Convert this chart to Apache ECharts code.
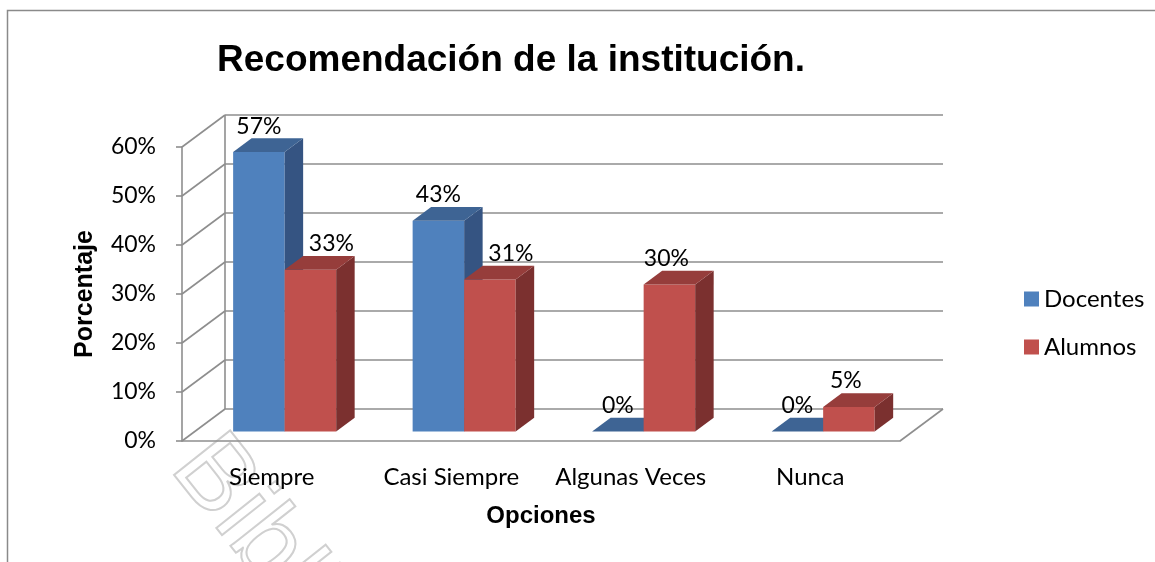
<!DOCTYPE html>
<html>
<head>
<meta charset="utf-8">
<script src="https://cdn.jsdelivr.net/npm/echarts@6/dist/echarts.min.js"></script>
<style>
  html, body { margin: 0; padding: 0; background: #fff; }
  #chart { width: 1155px; height: 562px; }
</style>
</head>
<body>
<div id="chart"></div>
<script>
var categories = ['Siempre', 'Casi Siempre', 'Algunas Veces', 'Nunca'];
var docentes = [0.57, 0.43, 0, 0];
var alumnos = [0.33, 0.31, 0.30, 0.05];
var yTicks = [0, 0.1, 0.2, 0.3, 0.4, 0.5, 0.6];

// profundidad del efecto 3D (px)
var DX = 43, DY = -32;
var D0 = 0.3, D1 = 0.73;
var GRID_COLOR = '#8e8e8e';
var FONT = 'Lato, "Open Sans", sans-serif';
var ARIAL = '"Liberation Sans", Arial, sans-serif';

var chart = echarts.init(document.getElementById('chart'));

function pct(v) {
  return Math.round(v * 100) + '%';
}

function wallItem(params, api) {
  var cs = params.coordSys;
  var L = cs.x, R = cs.x + cs.width;
  var v = api.value(1);
  var y = api.coord([0, v])[1];
  var st = { stroke: GRID_COLOR, lineWidth: 1.6, fill: null };
  var children = [
    { type: 'line', shape: { x1: L, y1: y, x2: L + DX, y2: y + DY }, style: st },
    { type: 'line', shape: { x1: L + DX, y1: y + DY, x2: R + DX, y2: y + DY }, style: st }
  ];
  if (v === 0) {
    var yTop = api.coord([0, yTicks[yTicks.length - 1]])[1];
    children.push({ type: 'line', shape: { x1: L + DX, y1: y + DY, x2: L + DX, y2: yTop + DY }, style: st });
    children.push({ type: 'line', shape: { x1: R, y1: y, x2: R + DX, y2: y + DY }, style: st });
  }
  return { type: 'group', children: children };
}

function barItem(right, front, top, side) {
  return function (params, api) {
    var cat = api.value(0), v = api.value(1);
    var base = api.coord([cat, 0]);
    var peak = api.coord([cat, v]);
    var bw = api.size([1, 0])[0] * 0.287;
    var x0 = base[0] + (right ? 0 : -bw) + DX * D0;
    var x1 = x0 + bw;
    var yb = base[1] + DY * D0;
    var yt = peak[1] + DY * D0;
    var dx = DX * (D1 - D0), dy = DY * (D1 - D0);
    // la etiqueta de Alumnos se corre a la derecha si la barra de Docentes es más alta
    var lx = (x0 + x1) / 2;
    if (right) lx += docentes[cat] > v ? 21 : -3;
    return {
      type: 'group',
      children: [
        { type: 'polygon', shape: { points: [[x0, yb], [x1, yb], [x1, yt], [x0, yt]] }, style: { fill: front } },
        { type: 'polygon', shape: { points: [[x1, yb], [x1 + dx, yb + dy], [x1 + dx, yt + dy], [x1, yt]] }, style: { fill: side } },
        { type: 'polygon', shape: { points: [[x0, yt], [x1, yt], [x1 + dx, yt + dy], [x0 + dx, yt + dy]] }, style: { fill: top } },
        {
          type: 'text', x: lx, y: yt - 26,
          style: { text: pct(v), font: '23px ' + FONT, fill: '#000', align: 'center', verticalAlign: 'middle' }
        }
      ]
    };
  };
}

chart.setOption({
  animation: false,
  backgroundColor: '#fff',
  title: {
    text: 'Recomendación de la institución.',
    left: 506,
    top: 37,
    textAlign: 'center',
    textStyle: { fontFamily: ARIAL, fontWeight: 'bold', fontSize: 37, color: '#000' }
  },
  legend: {
    orient: 'vertical',
    left: 1019,
    top: 282,
    itemWidth: 15,
    itemHeight: 15,
    itemGap: 24,
    icon: 'rect',
    textStyle: { fontFamily: FONT, fontSize: 24, color: '#000', lineHeight: 24 },
    data: ['Docentes', 'Alumnos']
  },
  grid: { left: 182, top: 147, width: 718, height: 294 },
  xAxis: {
    type: 'category',
    data: categories,
    name: 'Opciones',
    nameLocation: 'middle',
    nameGap: 63,
    nameTextStyle: { fontFamily: ARIAL, fontWeight: 'bold', fontSize: 24, color: '#000' },
    axisLine: { lineStyle: { color: GRID_COLOR, width: 1.6 } },
    axisTick: { show: false },
    axisLabel: { interval: 0, margin: 24, fontFamily: FONT, fontSize: 24, color: '#000' }
  },
  yAxis: {
    type: 'value',
    min: 0,
    max: 0.6,
    interval: 0.1,
    name: 'Porcentaje',
    nameLocation: 'middle',
    nameGap: 84,
    nameTextStyle: { fontFamily: ARIAL, fontWeight: 'bold', fontSize: 25, color: '#000' },
    axisLine: { show: true, lineStyle: { color: GRID_COLOR, width: 1.6 } },
    axisTick: { show: true, length: 6, lineStyle: { color: GRID_COLOR, width: 1.6 } },
    splitLine: { show: false },
    axisLabel: { margin: 26, fontFamily: FONT, fontSize: 23, color: '#000', formatter: pct }
  },
  series: [
    {
      type: 'custom',
      name: 'walls',
      renderItem: wallItem,
      data: yTicks.map(function (v) { return [0, v]; }),
      encode: { x: 0, y: 1 },
      silent: true,
      z: 1
    },
    {
      type: 'custom',
      name: 'Docentes',
      renderItem: barItem(false, '#4f81bd', '#3e6494', '#355482'),
      itemStyle: { color: '#4f81bd' },
      data: docentes.map(function (v, i) { return [i, v]; }),
      encode: { x: 0, y: 1 },
      z: 2
    },
    {
      type: 'custom',
      name: 'Alumnos',
      renderItem: barItem(true, '#c0504d', '#963d3b', '#7b302f'),
      itemStyle: { color: '#c0504d' },
      data: alumnos.map(function (v, i) { return [i, v]; }),
      encode: { x: 0, y: 1 },
      z: 3
    }
  ],
  graphic: [
    {
      type: 'rect',
      shape: { x: 7.5, y: 10.5, width: 1300, height: 700 },
      style: { fill: null, stroke: '#8a8a8a', lineWidth: 1.5 },
      silent: true,
      z: -10
    },
    {
      type: 'text',
      x: 232, y: 418,
      rotation: -0.9,
      style: { text: 'Biblioteca', font: '104px ' + ARIAL, fill: 'rgba(0,0,0,0)', stroke: '#d0d0d0', lineWidth: 2 },
      silent: true,
      z: -5
    }
  ]
});
</script>
</body>
</html>
